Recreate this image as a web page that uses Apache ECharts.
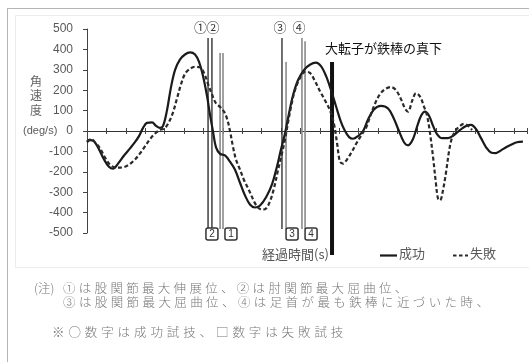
<!DOCTYPE html>
<html>
<head>
<meta charset="utf-8">
<script src="https://cdn.jsdelivr.net/npm/echarts@6/dist/echarts.min.js"></script>
<style>
html,body{margin:0;padding:0;background:#fff;}
#wrap{position:relative;width:529px;height:362px;overflow:hidden;}
#chart{position:absolute;left:0;top:0;width:529px;height:362px;}
.note{position:absolute;font-family:"Noto Sans CJK JP";font-size:12.5px;line-height:14px;color:#777;white-space:nowrap;font-weight:300;}
</style>
</head>
<body>
<div id="wrap">
<div id="chart"></div>
<div class="note" style="left:34px;top:281px;">(注)</div>
<div class="note" style="left:63px;top:281px;letter-spacing:3.3px;">①は股関節最大伸展位、②は肘関節最大屈曲位、</div>
<div class="note" style="left:63px;top:295px;letter-spacing:3.4px;">③は股関節最大屈曲位、④は足首が最も鉄棒に近づいた時、</div>
<div class="note" style="left:52px;top:325px;letter-spacing:3.9px;">※○数字は成功試技、□数字は失敗試技</div>
</div>
<script>
// ---- data (time in s, angular velocity in deg/s) ----
const successTime = [0.000,0.015,0.036,0.062,0.088,0.113,0.134,0.160,0.191,0.222,0.247,0.268,0.289,0.309,0.335,0.356,0.376,0.392,0.412,0.433,0.454,0.479,0.505,0.531,0.557,0.577,0.598,0.619,0.634,0.649,0.665,0.686,0.711,0.737,0.763,0.789,0.814,0.840,0.866,0.892,0.923,0.954,0.979,1.000,1.021,1.041,1.062,1.088,1.119,1.149,1.180,1.206,1.232,1.258,1.284,1.309,1.330,1.351,1.371,1.397,1.423,1.448,1.479,1.515,1.552,1.582,1.608,1.634,1.655,1.680,1.701,1.722,1.742,1.763,1.784,1.804,1.830,1.861,1.892,1.923,1.954,1.979,2.005,2.031,2.057,2.082,2.108,2.134,2.160,2.191,2.216,2.247];
const successValue = [-55,-45,-50,-90,-140,-175,-185,-160,-120,-85,-55,-25,15,40,42,25,15,25,100,215,300,350,375,385,375,340,270,170,80,0,-80,-112,-120,-150,-190,-255,-315,-360,-375,-365,-325,-260,-175,-90,-10,85,175,250,300,325,335,318,270,200,120,45,0,-30,-38,-25,0,55,105,123,110,60,0,-55,-70,-40,20,75,95,75,25,-15,-35,-35,-20,5,25,30,10,-35,-80,-105,-108,-95,-80,-65,-55,-52];
const failTime = [0.000,0.021,0.041,0.067,0.093,0.124,0.155,0.186,0.216,0.247,0.273,0.299,0.325,0.351,0.376,0.402,0.423,0.443,0.464,0.485,0.505,0.531,0.557,0.582,0.603,0.624,0.644,0.665,0.686,0.706,0.722,0.737,0.753,0.768,0.789,0.809,0.835,0.861,0.881,0.902,0.923,0.943,0.964,0.985,1.005,1.021,1.036,1.052,1.072,1.098,1.124,1.149,1.175,1.201,1.227,1.253,1.273,1.289,1.304,1.320,1.340,1.366,1.392,1.418,1.438,1.459,1.485,1.510,1.536,1.567,1.593,1.619,1.639,1.655,1.675,1.696,1.716,1.737,1.753,1.768,1.784,1.799,1.809,1.820,1.835,1.851,1.866,1.881,1.902,1.923,1.943,1.964,1.985];
const failValue = [-50,-40,-55,-85,-130,-170,-180,-178,-165,-140,-110,-75,-40,-12,5,15,45,90,160,230,280,305,315,312,285,230,180,135,118,95,60,0,-80,-140,-190,-240,-290,-345,-375,-385,-380,-345,-280,-190,-110,-40,40,120,200,260,290,285,245,195,150,100,35,-60,-150,-160,-140,-100,-55,-15,15,70,135,180,205,215,200,155,110,95,145,185,170,120,75,-10,-130,-260,-330,-340,-290,-200,-100,-35,5,25,35,25,5];

// event marker lines (time, top value, bottom value, kind)
const markerLineTime   = [0.624,0.644,0.686,0.701,1.005,1.026,1.108,1.124];
const markerLineTop    = [456,456,382,382,456,338,456,440];
const markerLineBottom = [-480,-480,-480,-480,-480,-480,-480,-480];
const markerLineKind   = ['s','s','f','f','s','f','f','f'];
const circleLabels = ['①','②','③','④'];
const circleTime   = [0.585,0.649,0.995,1.093];
const circleValue  = 510;
const boxLabels = ['2','1','3','4'];
const boxTime   = [0.644,0.742,1.057,1.155];
const boxValue  = -505;
const trochanterTime = 1.263;
const trochanterRange = [338,-608];
const legendNames = ['成功','失敗'];

const successData = successTime.map((t,i)=>[t,successValue[i]]);
const failData = failTime.map((t,i)=>[t,failValue[i]]);
const lineData = markerLineTime.map((t,i)=>[t,markerLineTop[i],markerLineBottom[i],markerLineKind[i]==='s'?1:0]);

const chart = echarts.init(document.getElementById('chart'));
const grayTxt = '#595959';
const xBase = {
  type:'value', min:0, max:2.268, interval:0.1,
  axisLabel:{show:false}, splitLine:{show:false}
};
chart.setOption({
  animation:false,
  backgroundColor:'#fff',
  grid:{left:87,right:2,top:29,bottom:129},
  xAxis:[
    Object.assign({}, xBase, {position:'bottom',
      axisLine:{show:true,onZero:true,lineStyle:{color:'#333',width:1}},
      axisTick:{show:true,length:3,lineStyle:{color:'#444'}}}),
    Object.assign({}, xBase, {position:'bottom',offset:-102,
      axisLine:{show:false,onZero:false},
      axisTick:{show:true,inside:true,length:3,lineStyle:{color:'#444'}}})
  ],
  yAxis:{
    type:'value', min:-500, max:500, interval:100,
    axisLine:{show:true,lineStyle:{color:'#444',width:1}},
    axisTick:{show:true,length:4,lineStyle:{color:'#444'}},
    splitLine:{show:false},
    axisLabel:{
      margin:14, color:grayTxt, fontSize:12, fontFamily:'Liberation Sans',
      formatter:v=> v===0 ? '{u|(deg/s)}0' : String(v),
      rich:{u:{fontSize:11,color:grayTxt,fontFamily:'Liberation Sans',padding:[0,9,0,0]}}
    }
  },
  graphic:[
    {type:'line',shape:{x1:7,y1:8.5,x2:529,y2:8.5},style:{stroke:'#b5b5b5',lineWidth:1},silent:true},
    {type:'line',shape:{x1:7.5,y1:8,x2:7.5,y2:362},style:{stroke:'#b5b5b5',lineWidth:1},silent:true},
    {type:'rect',shape:{x:15.5,y:15.5,width:520,height:252},style:{fill:null,stroke:'#ececec',lineWidth:1},silent:true},
    {type:'text',left:30,top:74,style:{text:'角\n速\n度',fontSize:12,lineHeight:14.5,fill:'#666',fontFamily:'Noto Sans CJK JP'}},
    {type:'text',left:262,top:248,style:{text:'経過時間(s)',fontSize:13,fill:'#555',fontFamily:'Noto Sans CJK JP'}},
    {type:'text',left:325,top:42,style:{text:'大転子が鉄棒の真下',fontSize:13,fill:'#111',fontFamily:'Noto Sans CJK JP'}},
    {type:'line',shape:{x1:380,y1:255.5,x2:397,y2:255.5},style:{stroke:'#1a1a1a',lineWidth:2.2}},
    {type:'text',left:399,top:247,style:{text:legendNames[0],fontSize:13,fill:grayTxt,fontFamily:'Noto Sans CJK JP'}},
    {type:'line',shape:{x1:453,y1:255.5,x2:468,y2:255.5},style:{stroke:'#2a2a2a',lineWidth:2.2,lineDash:[3.5,2.5]}},
    {type:'text',left:470,top:247,style:{text:legendNames[1],fontSize:13,fill:grayTxt,fontFamily:'Noto Sans CJK JP'}}
  ],
  series:[
    {
      name:'marks', type:'custom', silent:true, clip:false, z:1,
      data:lineData,
      renderItem:(params,api)=>{
        const a=api.coord([api.value(0),api.value(1)]);
        const b=api.coord([api.value(0),api.value(2)]);
        const s=api.value(3)===1;
        return {type:'line',shape:{x1:a[0],y1:a[1],x2:b[0],y2:b[1]},
          style:{stroke:s?'#333':'#8a8a8a',lineWidth:s?1.4:1.6}};
      }
    },
    {
      name:'trochanter', type:'custom', silent:true, clip:false, z:3,
      data:[[trochanterTime,trochanterRange[0],trochanterRange[1]]],
      renderItem:(params,api)=>{
        const a=api.coord([api.value(0),api.value(1)]);
        const b=api.coord([api.value(0),api.value(2)]);
        return {type:'line',shape:{x1:a[0],y1:a[1],x2:b[0],y2:b[1]},style:{stroke:'#111',lineWidth:4}};
      }
    },
    {
      name:'circles', type:'custom', silent:true, clip:false, z:4,
      data:circleTime.map((t,i)=>[t,circleValue,i]),
      renderItem:(params,api)=>{
        const p=api.coord([api.value(0),api.value(1)]);
        return {type:'text',x:p[0],y:p[1],style:{text:circleLabels[api.value(2)],fontSize:13,fill:'#333',
          fontFamily:'Noto Sans CJK JP',align:'center',verticalAlign:'middle'}};
      }
    },
    {
      name:'boxes', type:'custom', silent:true, clip:false, z:4,
      data:boxTime.map((t,i)=>[t,boxValue,i]),
      renderItem:(params,api)=>{
        const p=api.coord([api.value(0),api.value(1)]);
        return {type:'group',x:p[0],y:p[1],children:[
          {type:'rect',shape:{x:-6,y:-6,width:12,height:12,r:2},style:{fill:'#fff',stroke:'#333',lineWidth:1.5}},
          {type:'text',style:{text:boxLabels[api.value(2)],x:0,y:0,fontSize:10,fill:'#333',
            fontFamily:'Liberation Sans',align:'center',verticalAlign:'middle'}}
        ]};
      }
    },
    {
      name:legendNames[0], type:'line', data:successData, smooth:0.35, symbol:'none', z:5,
      lineStyle:{color:'#1a1a1a',width:2.2}, itemStyle:{color:'#1a1a1a'}
    },
    {
      name:legendNames[1], type:'line', data:failData, smooth:0.35, symbol:'none', z:5,
      lineStyle:{color:'#2a2a2a',width:2.2,type:[4,2.5]}, itemStyle:{color:'#2a2a2a'}
    }
  ]
});
</script>
</body>
</html>
